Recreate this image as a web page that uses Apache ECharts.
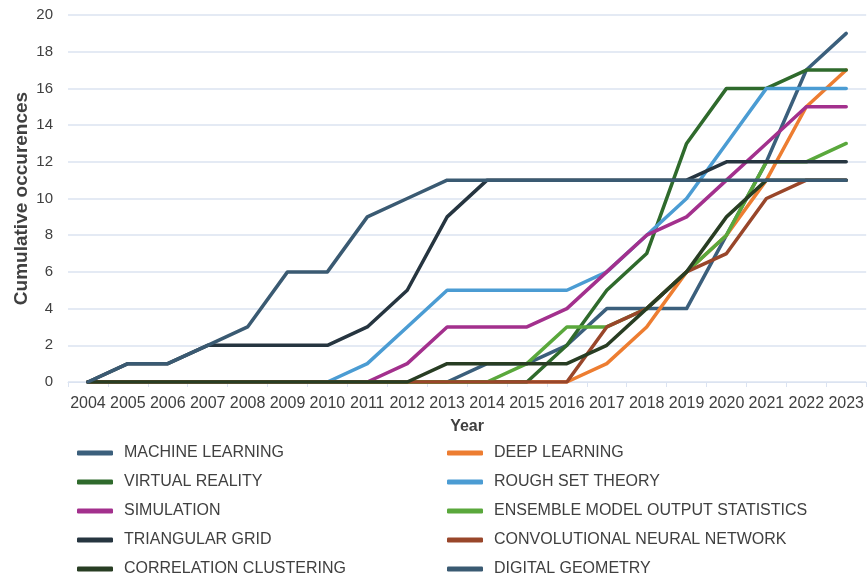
<!DOCTYPE html>
<html>
<head>
<meta charset="utf-8">
<title>Cumulative occurences</title>
<script src="https://cdn.jsdelivr.net/npm/echarts@6.0.0/dist/echarts.min.js"></script>
<style>
  html,
  body {
    margin: 0;
    padding: 0;
    background: #ffffff;
  }

  #chart {
    width: 867px;
    height: 580px;
  }
</style>
</head>
<body>
<div id="chart"></div>
<script>
// 年份
const years = ["2004", "2005", "2006", "2007", "2008", "2009", "2010", "2011", "2012", "2013",
  "2014", "2015", "2016", "2017", "2018", "2019", "2020", "2021", "2022", "2023"];

// cumulative counts per keyword
const machineLearning = [0, 0, 0, 0, 0, 0, 0, 0, 0, 0, 1, 1, 2, 4, 4, 4, 8, 12, 17, 19];
const deepLearning = [0, 0, 0, 0, 0, 0, 0, 0, 0, 0, 0, 0, 0, 1, 3, 6, 8, 11, 15, 17];
const virtualReality = [0, 0, 0, 0, 0, 0, 0, 0, 0, 0, 0, 0, 2, 5, 7, 13, 16, 16, 17, 17];
const roughSetTheory = [0, 0, 0, 0, 0, 0, 0, 1, 3, 5, 5, 5, 5, 6, 8, 10, 13, 16, 16, 16];
const simulation = [0, 0, 0, 0, 0, 0, 0, 0, 1, 3, 3, 3, 4, 6, 8, 9, 11, 13, 15, 15];
const ensembleMos = [0, 0, 0, 0, 0, 0, 0, 0, 0, 0, 0, 1, 3, 3, 4, 6, 8, 12, 12, 13];
const triangularGrid = [0, 1, 1, 2, 2, 2, 2, 3, 5, 9, 11, 11, 11, 11, 11, 11, 12, 12, 12, 12];
const convNet = [0, 0, 0, 0, 0, 0, 0, 0, 0, 0, 0, 0, 0, 3, 4, 6, 7, 10, 11, 11];
const correlationClustering = [0, 0, 0, 0, 0, 0, 0, 0, 0, 1, 1, 1, 1, 2, 4, 6, 9, 11, 11, 11];
const digitalGeometry = [0, 1, 1, 2, 3, 6, 6, 9, 10, 11, 11, 11, 11, 11, 11, 11, 11, 11, 11, 11];

const yTicks = { min: 0, max: 20, interval: 2 };

const seriesList = [
  { name: "MACHINE LEARNING", data: machineLearning, color: "#3b5f7c" },
  { name: "DEEP LEARNING", data: deepLearning, color: "#ed7d31" },
  { name: "VIRTUAL REALITY", data: virtualReality, color: "#2f6a2c" },
  { name: "ROUGH SET THEORY", data: roughSetTheory, color: "#4b9cd3" },
  { name: "SIMULATION", data: simulation, color: "#a3308d" },
  { name: "ENSEMBLE MODEL OUTPUT STATISTICS", data: ensembleMos, color: "#5aa83c" },
  { name: "TRIANGULAR GRID", data: triangularGrid, color: "#263540" },
  { name: "CONVOLUTIONAL NEURAL NETWORK", data: convNet, color: "#99462a" },
  { name: "CORRELATION CLUSTERING", data: correlationClustering, color: "#283d23" },
  { name: "DIGITAL GEOMETRY", data: digitalGeometry, color: "#3a5a72" }
];

const gridColor = "#dbe3f1";
const textColor = "#404040";

const legendBase = {
  orient: "vertical",
  top: 445,
  padding: 0,
  itemGap: 13,
  itemWidth: 36,
  itemHeight: 5,
  icon: "roundRect",
  selectedMode: false,
  textStyle: {
    fontFamily: "Liberation Sans",
    fontSize: 16,
    lineHeight: 16,
    color: textColor,
    padding: [0, 0, 0, 6]
  }
};

const myChart = echarts.init(document.getElementById("chart"), null, { renderer: "canvas" });

const option = {
  animation: false,
  backgroundColor: "#ffffff",
  color: seriesList.map(s => s.color),
  grid: {
    left: 68,
    right: 0,
    top: 15,
    bottom: 198,
    containLabel: false
  },
  legend: [
    Object.assign({}, legendBase, {
      left: 77,
      data: seriesList.filter((s, i) => i % 2 === 0).map(s => s.name)
    }),
    Object.assign({}, legendBase, {
      left: 447,
      data: seriesList.filter((s, i) => i % 2 === 1).map(s => s.name)
    })
  ],
  xAxis: {
    type: "category",
    data: years,
    boundaryGap: true,
    name: "Year",
    nameLocation: "middle",
    nameGap: 37,
    nameTextStyle: {
      fontFamily: "Liberation Sans",
      fontSize: 16,
      fontWeight: "bold",
      color: textColor
    },
    axisLine: { lineStyle: { color: gridColor, width: 1 } },
    axisTick: { show: true, length: 5, lineStyle: { color: gridColor } },
    axisLabel: {
      interval: 0,
      margin: 14,
      fontFamily: "Liberation Sans",
      fontSize: 16,
      color: textColor
    }
  },
  yAxis: {
    type: "value",
    min: yTicks.min,
    max: yTicks.max,
    interval: yTicks.interval,
    name: "Cumulative occurences",
    nameLocation: "middle",
    nameRotate: 90,
    nameGap: 37,
    nameMoveOverlap: false,
    nameTextStyle: {
      fontFamily: "Liberation Sans",
      fontSize: 19,
      fontWeight: "bold",
      color: textColor
    },
    axisLine: { show: false },
    axisTick: { show: false },
    splitLine: { lineStyle: { color: gridColor, width: 1.5 } },
    axisLabel: {
      margin: 15,
      fontFamily: "Liberation Sans",
      fontSize: 15,
      color: textColor
    }
  },
  series: seriesList.map(s => ({
    name: s.name,
    type: "line",
    data: s.data,
    showSymbol: false,
    symbol: "none",
    smooth: false,
    lineStyle: { width: 3.5, color: s.color, cap: "round", join: "round" },
    itemStyle: { color: s.color },
    emphasis: { disabled: true }
  }))
};

myChart.setOption(option);
</script>
</body>
</html>
